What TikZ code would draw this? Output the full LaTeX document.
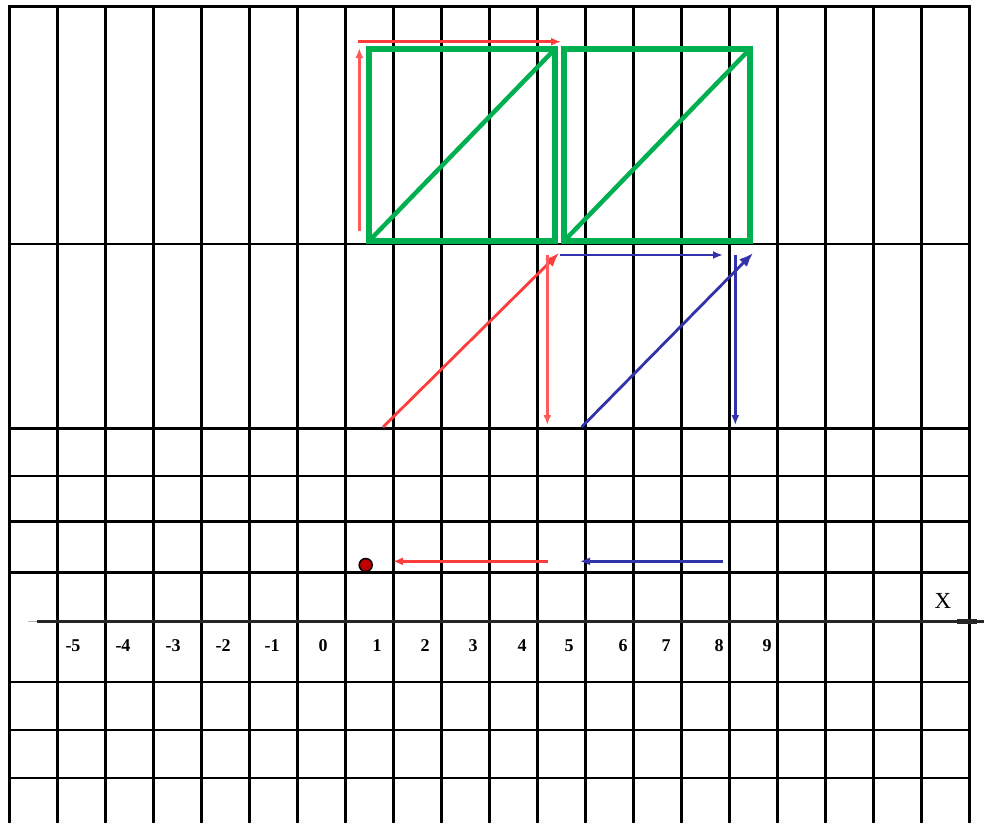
\documentclass[tikz,border=0pt]{standalone}
\usepackage{fontspec}
\setmainfont{Liberation Serif}
\usetikzlibrary{arrows.meta}
\definecolor{gridgreen}{RGB}{0,176,80}
\definecolor{arred}{RGB}{255,60,60}
\definecolor{arblue}{RGB}{50,50,170}
\definecolor{dotred}{RGB}{190,0,0}
\begin{document}
\begin{tikzpicture}[x=1pt,y=-1pt,
  gridline/.style={line width=2.4pt,black},
  shape line/.style={line width=5.5pt,gridgreen,line join=miter},
  diag line/.style={line width=4.5pt,gridgreen},
  small red/.style={line width=2.8pt,arred,-{Latex[length=10pt,width=8pt]}},
  small blue/.style={line width=2.8pt,arblue,-{Latex[length=10pt,width=8pt]}},
  big red/.style={line width=2.8pt,arred,-{Latex[length=14pt,width=11pt]}},
  big blue/.style={line width=2.8pt,arblue,-{Latex[length=14pt,width=11pt]}},
  tick label/.style={font=\bfseries\fontsize{18}{18}\selectfont,inner sep=0pt}]
\useasboundingbox (0,0) rectangle (984,823);
\fill[white] (0,0) rectangle (984,823);
% grid
\foreach \k in {0,...,20}
  \draw[gridline] ({9.3+48*\k},6.5) -- ({9.3+48*\k},823);
\foreach \yy in {6.5,244,428.3,476,521.5,572.3,681.7,730,777.7}
  \draw[gridline,line cap=rect] (9.3,\yy) -- (969.3,\yy);
% x axis
\coordinate (axL) at (37,621.7);
\coordinate (axR) at (984,621.7);
\draw[line width=1.5pt,gray!60] (28,621.7) -- (axL);
\draw[line width=3.2pt,black!85] (axL) -- (axR);
\draw[line width=5pt,black!85] (957,621.7) -- (977,621.7);
\node[font=\fontsize{23}{23}\selectfont,inner sep=0pt] (xlab) at (943,601) {X};
% tick labels
\node[tick label] (l-5) at (73,646) {-5};
\node[tick label] (l-4) at (123,646) {-4};
\node[tick label] (l-3) at (173,646) {-3};
\node[tick label] (l-2) at (223,646) {-2};
\node[tick label] (l-1) at (272,646) {-1};
\node[tick label] (l0) at (323,646) {0};
\node[tick label] (l1) at (377,646) {1};
\node[tick label] (l2) at (425,646) {2};
\node[tick label] (l3) at (473,646) {3};
\node[tick label] (l4) at (522,646) {4};
\node[tick label] (l5) at (569,646) {5};
\node[tick label] (l6) at (623,646) {6};
\node[tick label] (l7) at (666,646) {7};
\node[tick label] (l8) at (719,646) {8};
\node[tick label] (l9) at (767,646) {9};
% green shapes
\coordinate (A1) at (369,241);
\coordinate (B1) at (555,49);
\coordinate (A2) at (564,241);
\coordinate (B2) at (750,49);
\draw[shape line] (A1) rectangle (B1);
\draw[diag line] (A1) -- (B1);
\draw[shape line] (A2) rectangle (B2);
\draw[diag line] (A2) -- (B2);
% red arrows
\coordinate (rv0) at (359.3,231);
\coordinate (rv1) at (359.3,48);
\coordinate (rh0) at (358,41.7);
\coordinate (rh1) at (561,41.7);
\coordinate (rd0) at (383,427);
\coordinate (rd1) at (559,253);
\coordinate (rdv0) at (547.3,255);
\coordinate (rdv1) at (547.3,425);
\coordinate (rb0) at (548,561.3);
\coordinate (rb1) at (393,561.3);
\draw[small red,arred!85] (rv0) -- (rv1);
\draw[small red] (rh0) -- (rh1);
\draw[big red] (rd0) -- (rd1);
\draw[small red,arred!85] (rdv0) -- (rdv1);
\draw[small red] (rb0) -- (rb1);
% blue arrows
\coordinate (bh0) at (560,255);
\coordinate (bh1) at (723,255);
\coordinate (bd0) at (581.7,427);
\coordinate (bd1) at (753,253);
\coordinate (bv0) at (735.3,255);
\coordinate (bv1) at (735.3,425);
\coordinate (bb0) at (722.7,561.3);
\coordinate (bb1) at (580,561.3);
\draw[small blue] (bh0) -- (bh1);
\draw[big blue] (bd0) -- (bd1);
\draw[small blue] (bv0) -- (bv1);
\draw[small blue] (bb0) -- (bb1);
% point
\node[circle,fill=dotred,draw=black,line width=1.5pt,minimum size=13pt,inner sep=0pt] (pt) at (365.7,565) {};
\end{tikzpicture}
\end{document}
